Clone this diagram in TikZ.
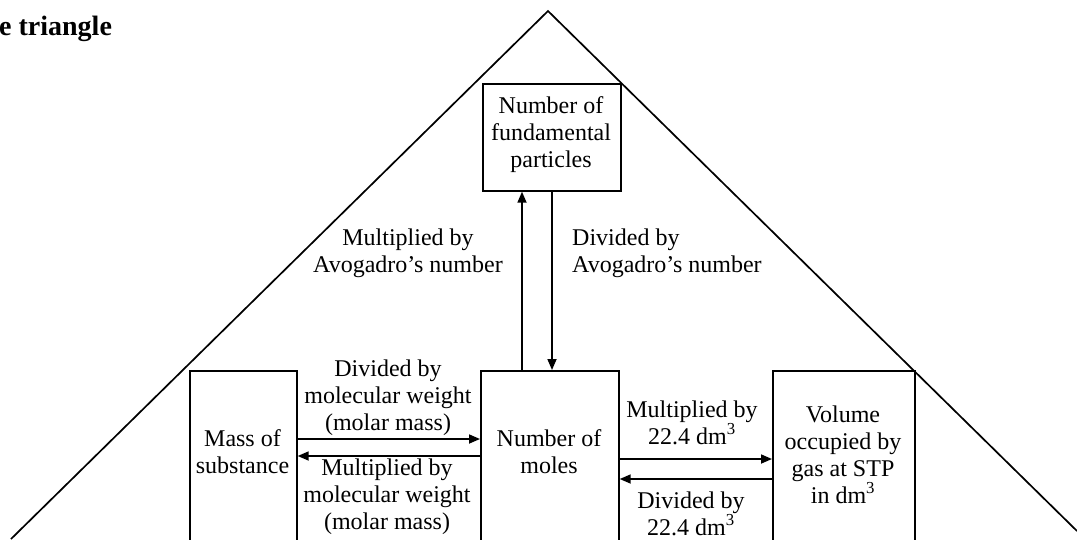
\documentclass[tikz,border=0pt]{standalone}
\usepackage{fontspec}
\setmainfont{Liberation Serif}
\usetikzlibrary{arrows.meta}
\begin{document}
\begin{tikzpicture}[x=1pt,y=-1pt,
  every node/.style={font=\fontsize{24}{27}\selectfont, inner sep=0pt},
  box/.style={draw, line width=1.7pt, rectangle, anchor=north west, minimum width=#1, minimum height=210pt},
  lbl/.style={align=center, anchor=base},
  lbll/.style={align=left, anchor=base west},
  arr/.style={line width=1.7pt, -{Triangle[length=11pt,width=9pt]}},
  edge/.style={line width=1.7pt, line join=miter}]
\useasboundingbox (0,0) rectangle (1077,539);
% title
\node[anchor=base west, font=\fontsize{28}{32}\selectfont\bfseries] (title) at (-1,35) {e triangle};
% triangle
\coordinate (apex) at (548,11);
\coordinate (tl) at (11,539);
\coordinate (tr) at (1077,531);
\draw[edge] (tl) -- (apex) -- (tr);
% boxes
\node[box=138pt, minimum height=107pt] (top) at (482,83) {};
\node[box=107pt] (mass) at (189,370) {};
\node[box=138pt] (moles) at (480,370) {};
\node[box=142pt] (vol) at (772,370) {};
% box texts (anchor base = baseline of last line)
\node[lbl] (toptxt) at (551,167) {Number of\\fundamental\\particles};
\node[lbl] (masstxt) at (242.5,473) {Mass of\\substance};
\node[lbl] (molestxt) at (549,473) {Number of\\moles};
\node[lbl] (voltxt) at (843,503) {Volume\\occupied by\\gas at STP\\in dm\textsuperscript{3}};
% vertical arrows
\coordinate (ux) at (522,0);
\coordinate (dx) at (552,0);
\draw[arr] (ux |- moles.north) -- (ux |- top.south);
\draw[arr] (dx |- top.south) -- (dx |- moles.north);
\node[lbl] (avm) at (408,272) {Multiplied by\\Avogadro’s number};
\node[lbll] (avd) at (572,272) {Divided by\\Avogadro’s number};
% left arrows
\coordinate (ly1) at (0,439);
\coordinate (ly2) at (0,456);
\draw[arr] (mass.east |- ly1) -- (moles.west |- ly1);
\draw[arr] (moles.west |- ly2) -- (mass.east |- ly2);
\node[lbl] (mwd) at (388,430) {Divided by\\molecular weight\\(molar mass)};
\node[lbl] (mwm) at (387,529) {Multiplied by\\molecular weight\\(molar mass)};
% right arrows
\coordinate (ry1) at (0,459);
\coordinate (ry2) at (0,479);
\draw[arr] (moles.east |- ry1) -- (vol.west |- ry1);
\draw[arr] (vol.west |- ry2) -- (moles.east |- ry2);
\node[lbl] (vm) at (692,444) {Multiplied by\\22.4 dm\textsuperscript{3}};
\node[lbl] (vd) at (691,535) {Divided by\\22.4 dm\textsuperscript{3}};
\end{tikzpicture}
\end{document}
